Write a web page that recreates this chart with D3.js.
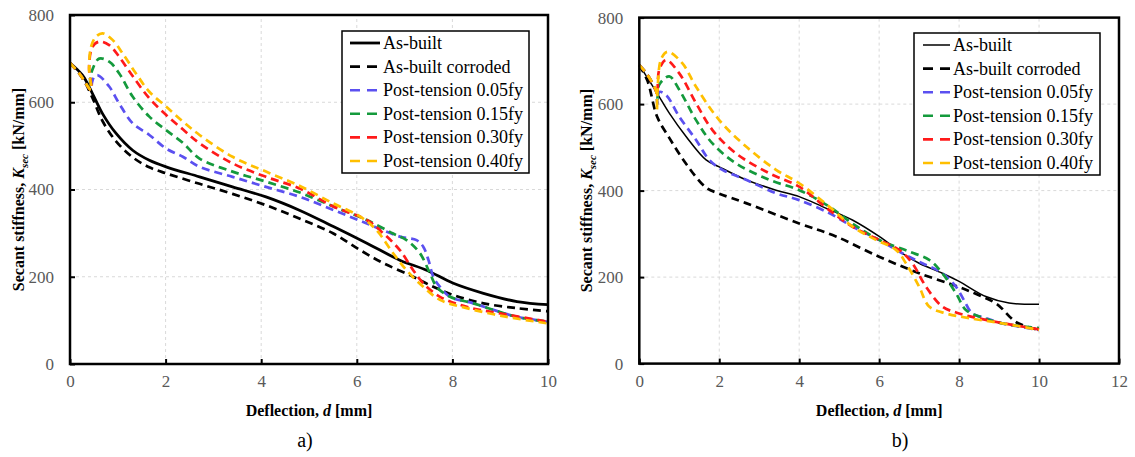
<!DOCTYPE html>
<html>
<head>
<meta charset="utf-8">
<script src="https://cdn.jsdelivr.net/npm/d3@7"></script>
<style>
  body { margin: 0; background: #fff; }
  svg { display: block; }
  .tick line { stroke: #000; stroke-width: 2; }
  .grid line { stroke: #d9d9d9; stroke-width: 1; stroke-dasharray: 3,3; }
</style>
</head>
<body>
<div id="chart"></div>
<script>
var serif = "'Liberation Serif', 'DejaVu Serif', 'Noto Serif', serif";

// x ticks / y ticks
var yTicks = [0, 200, 400, 600, 800];
var xTicksA = [0, 2, 4, 6, 8, 10];
var xTicksB = [0, 2, 4, 6, 8, 10, 12];

var seriesNames = ["As-built", "As-built corroded", "Post-tension 0.05fy",
                   "Post-tension 0.15fy", "Post-tension 0.30fy", "Post-tension 0.40fy"];

// panel a) values [deflection, stiffness]
var aAsBuilt = [[0,690],[0.26,662],[0.47,620],[0.68,574],[0.96,529],[1.31,490],[1.66,467],[2.01,452],[2.71,429],[3.40,406],[4.10,383],[4.81,352],[5.51,315],[6.21,277],[6.90,238],[7.46,215],[8.02,185],[8.65,162],[9.35,143],[10,136]];
var aCorroded = [[0,690],[0.25,658],[0.47,610],[0.68,557],[0.96,511],[1.31,474],[1.66,451],[2.01,437],[2.71,413],[3.40,390],[4.10,364],[4.81,333],[5.51,299],[6.07,261],[6.56,231],[7.18,200],[7.60,177],[8.02,158],[8.65,139],[9.35,128],[10,121]];
var aPT005 = [[0,690],[0.2,665],[0.44,628],[0.46,645],[0.51,659],[0.58,662],[0.82,636],[1.03,597],[1.31,552],[1.66,525],[2.01,494],[2.36,475],[2.71,452],[3.40,429],[4.10,406],[4.81,383],[5.51,353],[6.21,322],[6.90,292],[7.25,284],[7.39,269],[7.50,238],[7.60,200],[7.74,177],[7.95,154],[8.44,139],[9.35,108],[10,97]];
var aPT015 = [[0,690],[0.2,665],[0.44,628],[0.42,650],[0.46,672],[0.61,700],[0.82,693],[1.03,666],[1.31,613],[1.66,567],[2.01,536],[2.36,507],[2.71,471],[3.40,441],[4.10,418],[4.81,393],[5.51,361],[6.21,330],[6.76,299],[7.04,284],[7.32,254],[7.53,208],[7.67,177],[7.95,154],[8.44,139],[9.35,108],[10,97]];
var aPT030 = [[0,690],[0.2,665],[0.44,628],[0.40,680],[0.47,727],[0.61,739],[0.82,731],[1.03,704],[1.31,660],[1.66,609],[2.01,571],[2.36,538],[2.71,506],[3.40,460],[4.10,429],[4.81,402],[5.51,361],[6.21,330],[6.56,299],[6.90,261],[7.18,215],[7.39,185],[7.74,154],[8.30,131],[9.0,116],[10,97]];
var aPT040 = [[0,690],[0.2,665],[0.44,628],[0.40,674],[0.44,727],[0.54,750],[0.68,758],[0.89,743],[1.10,712],[1.38,666],[1.66,624],[2.01,590],[2.36,556],[2.71,525],[3.40,475],[4.10,441],[4.81,408],[5.51,368],[6.07,338],[6.41,307],[6.76,254],[7.04,215],[7.39,177],[7.74,147],[8.30,128],[9.14,108],[10,93]];

// panel b) values [deflection, stiffness]
var bAsBuilt = [[0,690],[0.42,629],[0.75,579],[1.17,525],[1.67,471],[2.0,455],[2.67,425],[3.42,401],[4.0,386],[4.58,363],[5.33,332],[6.0,294],[6.58,255],[7.0,232],[7.58,209],[8.0,190],[8.67,155],[9.25,140],[10,137]];
var bCorroded = [[0,690],[0.2,655],[0.45,570],[0.75,522],[1.17,462],[1.67,407],[2.0,393],[2.67,371],[4.0,324],[4.92,294],[6.0,247],[7.0,209],[8.0,177],[8.5,158],[8.94,138],[9.44,95],[10,78]];
var bPT005 = [[0,690],[0.2,668],[0.42,630],[0.45,600],[0.5,628],[0.67,621],[1.0,571],[1.42,517],[1.75,471],[2.08,448],[2.67,425],[3.42,394],[4.0,378],[4.75,348],[5.33,317],[6.0,286],[6.58,255],[7.08,232],[7.58,209],[7.92,178],[8.12,147],[8.33,116],[8.67,105],[9.08,93],[10,78]];
var bPT015 = [[0,690],[0.2,668],[0.42,630],[0.45,610],[0.5,645],[0.75,664],[1.0,633],[1.42,563],[1.83,509],[2.42,463],[3.25,425],[4.0,401],[4.75,363],[5.33,324],[6.0,286],[6.75,259],[7.25,240],[7.58,209],[7.92,163],[8.17,124],[8.5,109],[9.08,93],[10,82]];
var bPT030 = [[0,690],[0.2,668],[0.42,630],[0.45,620],[0.5,680],[0.67,702],[1.0,671],[1.42,602],[1.83,540],[2.42,486],[3.25,440],[4.0,409],[4.75,355],[5.33,317],[6.0,286],[6.5,263],[6.83,232],[7.17,178],[7.58,132],[8.0,116],[8.67,101],[10,79]];
var bPT040 = [[0,690],[0.2,668],[0.42,630],[0.44,585],[0.46,640],[0.55,705],[0.71,721],[1.08,694],[1.42,640],[2.0,563],[2.67,502],[3.42,448],[4.0,417],[4.75,363],[5.33,317],[5.92,286],[6.42,263],[6.67,232],[7.0,178],[7.25,132],[7.67,116],[8.25,105],[9.08,93],[10,78]];

var colors = ["#000000", "#000000", "#5b50f0", "#149a3c", "#ff1a1a", "#ffbf00"];
var dashes = [null, "8,5", "8,5", "8,5", "8,5", "8,5"];

var svg = d3.select("#chart").append("svg")
    .attr("width", 1135)
    .attr("height", 457)
    .style("font-family", serif);

function drawPanel(p) {
    var x = d3.scaleLinear().domain([0, p.xMax]).range(p.xRange);
    var y = d3.scaleLinear().domain([0, 800]).range(p.yRange);
    var g = svg.append("g");

    // grid
    var grid = g.append("g").attr("class", "grid");
    grid.selectAll(".gx").data(p.xTicks.slice(1, -1)).enter().append("line")
        .attr("x1", function (d) { return x(d); }).attr("x2", function (d) { return x(d); })
        .attr("y1", y(0)).attr("y2", y(800));
    grid.selectAll(".gy").data(yTicks.slice(1, -1)).enter().append("line")
        .attr("x1", x(0)).attr("x2", x(p.xMax))
        .attr("y1", function (d) { return y(d); }).attr("y2", function (d) { return y(d); });

    // axes
    var styleAxis = function (a) {
        a.select(".domain").remove();
        a.attr("font-family", serif).attr("font-size", 17);
        a.selectAll(".tick text").style("font-family", serif).attr("fill", "#595959");
    };
    g.append("g")
        .attr("transform", "translate(0," + y(0) + ")")
        .call(d3.axisBottom(x).tickValues(p.xTicks).tickSize(-5).tickPadding(11))
        .call(styleAxis);
    g.append("g")
        .attr("transform", "translate(" + x(0) + ",0)")
        .call(d3.axisLeft(y).tickValues(yTicks).tickSize(-5).tickPadding(16))
        .call(styleAxis);

    // lines
    var line = d3.line()
        .x(function (d) { return x(d[0]); })
        .y(function (d) { return y(d[1]); })
        .curve(d3.curveCatmullRom.alpha(0.5));

    var order = [1, 0, 2, 3, 4, 5];
    order.forEach(function (i) {
        g.append("path")
            .datum(p.series[i])
            .attr("fill", "none")
            .attr("stroke", colors[i])
            .attr("stroke-width", i === 0 ? p.solidWidth : 2.7)
            .attr("stroke-dasharray", dashes[i])
            .attr("d", line);
    });

    // frame
    g.append("rect")
        .attr("x", x(0)).attr("y", y(800))
        .attr("width", x(p.xMax) - x(0)).attr("height", y(0) - y(800))
        .attr("fill", "none").attr("stroke", "#000").attr("stroke-width", 2.5);

    // legend
    var lg = g.append("g").attr("transform", "translate(" + p.legend[0] + "," + p.legend[1] + ")");
    lg.append("rect")
        .attr("width", p.legend[2]).attr("height", 142)
        .attr("fill", "#fff").attr("stroke", "#000").attr("stroke-width", 1.5);
    seriesNames.forEach(function (name, i) {
        var yy = 12 + i * 23.6;
        lg.append("line")
            .attr("x1", p.legendLine[0]).attr("x2", p.legendLine[1])
            .attr("y1", yy).attr("y2", yy)
            .attr("stroke", colors[i])
            .attr("stroke-width", i === 0 ? p.solidWidth : 2.6)
            .attr("stroke-dasharray", i === 0 ? null : "10,7");
        lg.append("text")
            .attr("x", p.legendLine[1] + 3).attr("y", yy + 6)
            .style("font-family", serif)
            .style("font-size", "18px")
            .text(name);
    });

    // axis titles
    var xt = g.append("text")
        .attr("x", (x(0) + x(p.xTitleMax)) / 2).attr("y", 416)
        .attr("text-anchor", "middle")
        .style("font-family", serif)
        .style("font-size", "16px").style("font-weight", "bold");
    xt.append("tspan").text("Deflection, ");
    xt.append("tspan").style("font-style", "italic").text("d");
    xt.append("tspan").text(" [mm]");

    var yt = g.append("text")
        .attr("transform", "translate(" + p.yTitleX + "," + ((y(0) + y(800)) / 2) + ") rotate(-90)")
        .attr("text-anchor", "middle")
        .style("font-family", serif)
        .style("font-size", "16px").style("font-weight", "bold");
    yt.append("tspan").text("Secant stiffness, ");
    yt.append("tspan").style("font-style", "italic").text("K");
    yt.append("tspan").style("font-style", "italic").style("font-size", "11px").attr("dy", 4).text("sec");
    yt.append("tspan").attr("dy", -4).text(" [kN/mm]");

    g.append("text")
        .attr("x", p.tag[0]).attr("y", p.tag[1])
        .attr("text-anchor", "middle")
        .style("font-family", serif)
        .style("font-size", "20px")
        .text(p.tag[2]);
}

drawPanel({
    xMax: 10, xTicks: xTicksA, xTitleMax: 10,
    xRange: [70, 548], yRange: [364, 15],
    series: [aAsBuilt, aCorroded, aPT005, aPT015, aPT030, aPT040],
    solidWidth: 2.8,
    legend: [342, 31, 187], legendLine: [8, 38],
    yTitleX: 24, tag: [305, 447, "a)"]
});

drawPanel({
    xMax: 12, xTicks: xTicksB, xTitleMax: 12,
    xRange: [639.3, 1119], yRange: [363.6, 17.6],
    series: [bAsBuilt, bCorroded, bPT005, bPT015, bPT030, bPT040],
    solidWidth: 1.5,
    legend: [914, 33, 186], legendLine: [9, 36],
    yTitleX: 592, tag: [900, 447, "b)"]
});
</script>
</body>
</html>
